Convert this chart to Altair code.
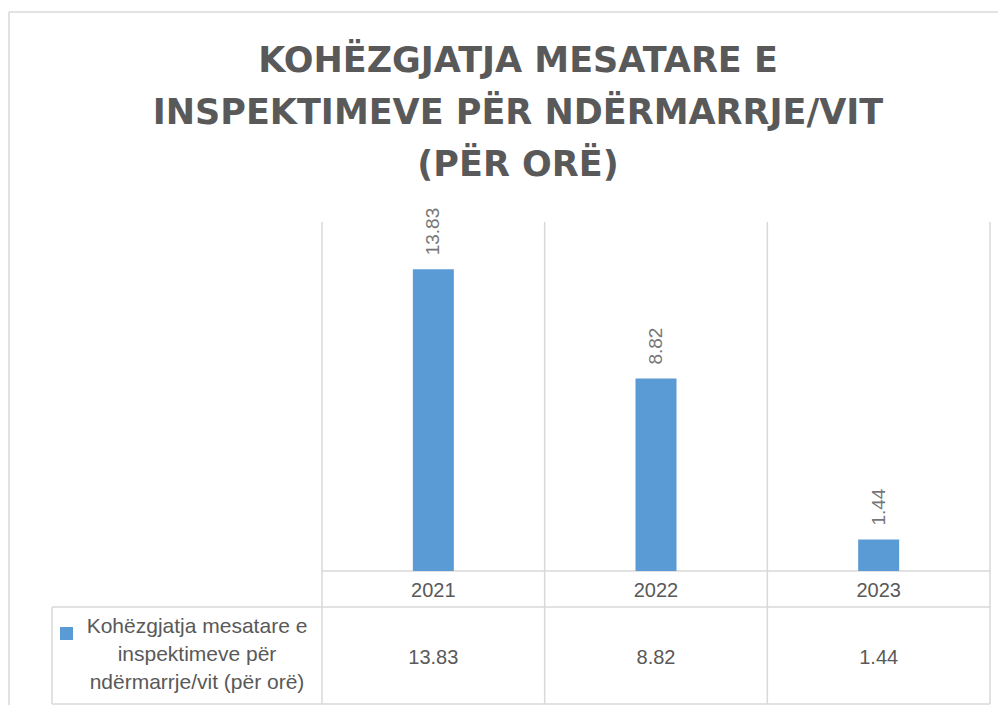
import altair as alt
import pandas as pd

# ---- data ----
years = ["2021", "2022", "2023"]
values = [13.83, 8.82, 1.44]
series_name = "Kohëzgjatja mesatare e\ninspektimeve për\nndërmarrje/vit (për orë)"
title_lines = ["KOHËZGJATJA MESATARE E", "INSPEKTIMEVE PËR NDËRMARRJE/VIT", "(PËR ORË)"]

df = pd.DataFrame({
    "year": years,
    "value": values,
    "pos": [i + 0.5 for i in range(len(years))],
    "label": [f"{v:.2f}" for v in values],
})
bounds = pd.DataFrame({"b": list(range(len(years) + 1))})
one = pd.DataFrame({"name": [series_name]})

# ---- layout / style ----
W, H = 938, 483
LEG_W = 270
BASE_Y = 349
ROW2_Y = 385
BOT_Y = 482
GRID = "#d9d9d9"
TXT = "#595959"
BLUE = "#5B9BD5"
FONT = "Liberation Sans"

x_scale = alt.Scale(domain=[0, len(years)], range=[LEG_W, W], padding=0)
y_scale = alt.Scale(domain=[0, 16], range=[BASE_Y, 0])

X = alt.X("pos:Q", scale=x_scale, axis=None)

border_top = alt.Chart(one).mark_rule(color=GRID, strokeWidth=1.5).encode(
    x=alt.value(-43), x2=alt.value(1100), y=alt.value(-210))
border_left = alt.Chart(one).mark_rule(color=GRID, strokeWidth=1.5).encode(
    x=alt.value(-43), y=alt.value(-210), y2=alt.value(700))

vlines = alt.Chart(bounds).mark_rule(color=GRID, strokeWidth=1.5).encode(
    x=alt.X("b:Q", scale=x_scale, axis=None), y=alt.value(0), y2=alt.value(BOT_Y))
axis_line = alt.Chart(one).mark_rule(color=GRID, strokeWidth=1.5).encode(
    x=alt.value(LEG_W), x2=alt.value(W), y=alt.value(BASE_Y))
row2_line = alt.Chart(one).mark_rule(color=GRID, strokeWidth=1.5).encode(
    x=alt.value(0), x2=alt.value(W), y=alt.value(ROW2_Y))
bot_line = alt.Chart(one).mark_rule(color=GRID, strokeWidth=1.5).encode(
    x=alt.value(0), x2=alt.value(W), y=alt.value(BOT_Y))
left_line = alt.Chart(one).mark_rule(color=GRID, strokeWidth=1.5).encode(
    x=alt.value(0), y=alt.value(ROW2_Y), y2=alt.value(BOT_Y))

bars = alt.Chart(df).mark_bar(size=41, color=BLUE).encode(
    x=X, y=alt.Y("value:Q", scale=y_scale, axis=None))

bar_labels = alt.Chart(df).mark_text(
    angle=270, align="left", baseline="middle", dx=14, fontSize=19,
    color="#767676", font=FONT).encode(
    x=X, y=alt.Y("value:Q", scale=y_scale, axis=None), text="label:N")

year_labels = alt.Chart(df).mark_text(
    fontSize=20, color=TXT, baseline="alphabetic", font=FONT).encode(
    x=X, y=alt.value(375), text="year:N")

val_labels = alt.Chart(df).mark_text(
    fontSize=20, color=TXT, baseline="alphabetic", font=FONT).encode(
    x=X, y=alt.value(442), text="label:N")

leg_sym = alt.Chart(one).mark_rect(color=BLUE).encode(
    x=alt.value(8), x2=alt.value(21), y=alt.value(405), y2=alt.value(418))
leg_text = alt.Chart(one).mark_text(
    lineBreak="\n", lineHeight=28, fontSize=21, color=TXT, align="center",
    baseline="alphabetic", font=FONT).encode(
    x=alt.value(145), y=alt.value(411), text="name:N")

chart = alt.layer(
    border_top, border_left, vlines, axis_line, row2_line, bot_line, left_line,
    bars, bar_labels, year_labels, val_labels, leg_sym, leg_text,
).properties(
    width=W, height=H,
    title=alt.TitleParams(
        text=title_lines, fontSize=35, font="DejaVu Sans", fontWeight="bold",
        color=TXT, lineHeight=52, anchor="middle", baseline="bottom",
        offset=0, dy=207, dx=-3),
    padding={"left": 44, "top": 214, "right": 8, "bottom": 0},
    autosize=alt.AutoSizeParams(type="none"),
).configure_view(stroke=None)

chart.save("out.html", embed_options={"renderer": "svg", "actions": False})
